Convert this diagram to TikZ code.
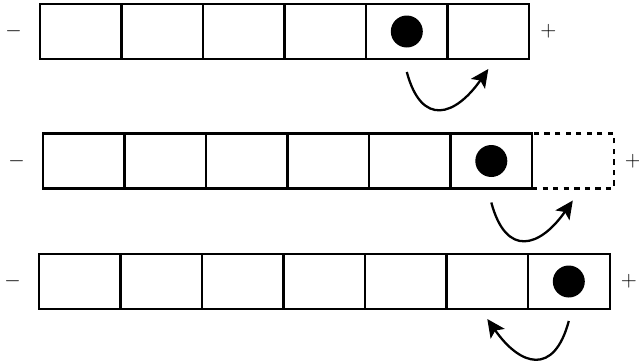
\documentclass[tikz,border=0pt]{standalone}
\usetikzlibrary{arrows.meta,positioning}

\begin{document}
\begin{tikzpicture}[
    node distance=0pt,
    cell/.style={draw, line width=1.2pt, minimum width=1.63cm, minimum height=1.1cm, inner sep=0pt, outer sep=0pt},
    ghost/.style={cell, dashed},
    ball/.style={circle, fill, minimum size=0.64cm, inner sep=0pt},
    sign/.style={inner sep=0pt, font=\large},
    hop/.style={-{Stealth[length=3.6mm, width=3.4mm, inset=0.8mm]}, line width=1.3pt, looseness=1.8}
]
\useasboundingbox (0,0) rectangle (12.78,-7.24);
% first row: ball in the fifth cell
\node[cell] (a1) at (1.616,-0.63) {};
\node[cell, right=of a1] (a2) {};
\node[cell, right=of a2] (a3) {};
\node[cell, right=of a3] (a4) {};
\node[cell, right=of a4] (a5) {};
\node[cell, right=of a5] (a6) {};
\node[ball] (ballA) at (a5) {};
\node[sign, left=0.36cm of a1] (minusA) {$-$};
\node[sign, right=0.22cm of a6] (plusA) {$+$};
\draw[hop] ([yshift=-0.26cm]a5.south) to[out=-75, in=-125] ([yshift=-0.2cm]a6.south);
% second row: ball at the end, dashed cell beyond
\node[cell] (b1) at (1.676,-3.22) {};
\node[cell, right=of b1] (b2) {};
\node[cell, right=of b2] (b3) {};
\node[cell, right=of b3] (b4) {};
\node[cell, right=of b4] (b5) {};
\node[cell, right=of b5] (b6) {};
\node[ghost, right=of b6] (b7) {};
\node[ball] (ballB) at (b6) {};
\node[sign, left=0.36cm of b1] (minusB) {$-$};
\node[sign, right=0.22cm of b7] (plusB) {$+$};
\draw[hop] ([yshift=-0.28cm]b6.south) to[out=-75, in=-125] ([yshift=-0.24cm]b7.south);
% third row: ball in the seventh cell, hops back
\node[cell] (c1) at (1.596,-5.63) {};
\node[cell, right=of c1] (c2) {};
\node[cell, right=of c2] (c3) {};
\node[cell, right=of c3] (c4) {};
\node[cell, right=of c4] (c5) {};
\node[cell, right=of c5] (c6) {};
\node[cell, right=of c6] (c7) {};
\node[ball] (ballC) at (c7) {};
\node[sign, left=0.36cm of c1] (minusC) {$-$};
\node[sign, right=0.22cm of c7] (plusC) {$+$};
\draw[hop] ([yshift=-0.24cm]c7.south) to[out=-105, in=-55] ([yshift=-0.2cm]c6.south);
\end{tikzpicture}
\end{document}
